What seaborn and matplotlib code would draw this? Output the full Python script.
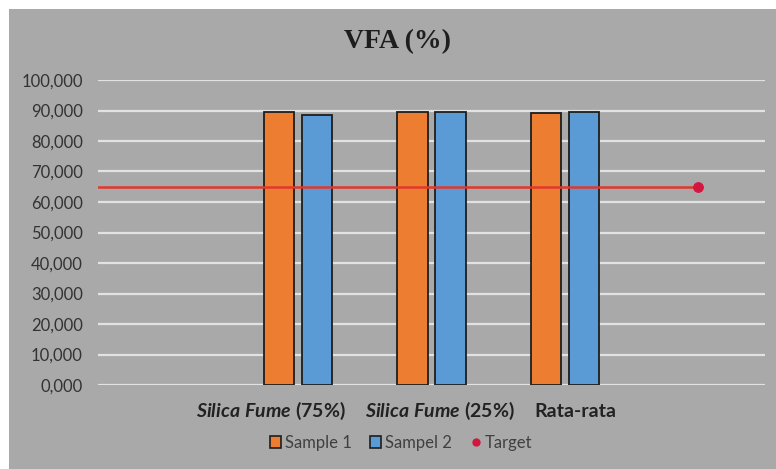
import matplotlib
matplotlib.use("Agg")
import matplotlib.pyplot as plt
import matplotlib.transforms as mtransforms
from matplotlib.patches import Rectangle, Patch
from matplotlib.lines import Line2D
import pandas as pd
import seaborn as sns

# ---- data -------------------------------------------------------------
categories = ["Silica Fume (75%)", "Silica Fume (25%)", "Rata-rata"]
category_labels = [r"$\mathit{Silica\ Fume}$ (75%)",
                   r"$\mathit{Silica\ Fume}$ (25%)",
                   "Rata-rata"]
series_names = ["Sample 1", "Sampel 2"]
sample_1 = [89.6, 89.5, 89.1]
sampel_2 = [88.5, 89.5, 89.4]
target_value = 65.0
y_ticks = [0, 10, 20, 30, 40, 50, 60, 70, 80, 90, 100]

# ---- style ------------------------------------------------------------
GREY = "#a9a9a9"
GRID = "#e2e2e2"
ORANGE = "#ed7d31"
BLUE = "#5b9bd5"
EDGE = "#1e1e1e"
RED_LINE = "#e2372c"
RED_DOT = "#d3173f"
TEXT = "#333333"

sns.set_style("white")
plt.rcParams["font.family"] = ["Lato", "DejaVu Sans"]
plt.rcParams["mathtext.fontset"] = "custom"
plt.rcParams["mathtext.rm"] = "Lato:bold"
plt.rcParams["mathtext.bf"] = "Lato:bold"
plt.rcParams["mathtext.it"] = "Lato:italic:bold"

W, H = 776, 469
fig = plt.figure(figsize=(W / 100, H / 100), dpi=100)
fig.patches.append(Rectangle((9 / W, 0), 1, 1 - 9 / H, transform=fig.transFigure,
                             facecolor=GREY, edgecolor="none", zorder=-10))

ax = fig.add_axes([98 / W, 1 - 385 / H, (765 - 98) / W, (385 - 80) / H])
ax.set_facecolor(GREY)

df = pd.DataFrame({
    "Kategori": categories * 2,
    "Nilai": sample_1 + sampel_2,
    "Seri": [s for s in series_names for _ in categories],
})

sns.barplot(data=df, x="Kategori", y="Nilai", hue="Seri", order=categories,
            hue_order=series_names, palette=[ORANGE, BLUE], saturation=1,
            width=0.57, gap=0.21, edgecolor=EDGE, linewidth=1.3, legend=False,
            ax=ax, zorder=3)

# one empty slot on each side of the three groups
ax.set_xlim(-1.5, len(categories) + 0.5)
ax.set_ylim(0, 100)

# target line running from the left edge to the last slot
target_x = [ax.get_xlim()[0], len(categories)]
sns.lineplot(x=target_x, y=[target_value] * 2, color=RED_LINE, linewidth=1.8,
             marker="o", markersize=7, markevery=[1], markerfacecolor=RED_DOT,
             markeredgecolor=RED_DOT, ax=ax, zorder=4)

ax.yaxis.grid(True, color=GRID, linewidth=1.6)
ax.set_axisbelow(True)
for s in ax.spines.values():
    s.set_visible(False)

ax.set_yticks(y_ticks)
ax.set_yticklabels([f"{v:.3f}".replace(".", ",") for v in y_ticks])
ax.tick_params(axis="y", length=0, pad=11, labelsize=12, labelcolor=TEXT)
ax.set_xticks([])
ax.set_xlabel("")
ax.set_ylabel("")

# category labels below the axis
label_shift_px = [-27, 8, 10]
for i, (lab, dx) in enumerate(zip(category_labels, label_shift_px)):
    tr = mtransforms.blended_transform_factory(ax.transData, ax.transAxes) + \
        mtransforms.ScaledTranslation(dx / 100, 0, fig.dpi_scale_trans)
    ax.text(i, (385 - 411) / (385 - 80), lab, transform=tr, ha="center",
            va="center", fontsize=14, fontweight="bold", color="#222222")

fig.text(398 / W, 1 - 42 / H, "VFA (%)", ha="center", va="center",
         fontfamily="Liberation Serif", fontweight="bold", fontsize=20,
         color="#1e1e1e")

handles = [
    Patch(facecolor=ORANGE, edgecolor=EDGE, linewidth=1.2, label=series_names[0]),
    Patch(facecolor=BLUE, edgecolor=EDGE, linewidth=1.2, label=series_names[1]),
    Line2D([], [], linestyle="none", marker="o", markersize=5,
           markerfacecolor=RED_DOT, markeredgecolor=RED_DOT, label="Target"),
]
fig.legend(handles=handles, loc="center", bbox_to_anchor=(401 / W, 1 - 443 / H),
           ncol=3, frameon=False, fontsize=12, handlelength=0.7,
           handleheight=0.7, handletextpad=0.2, columnspacing=1.1,
           labelcolor="#404040")

fig.savefig("out.png", dpi=100)
